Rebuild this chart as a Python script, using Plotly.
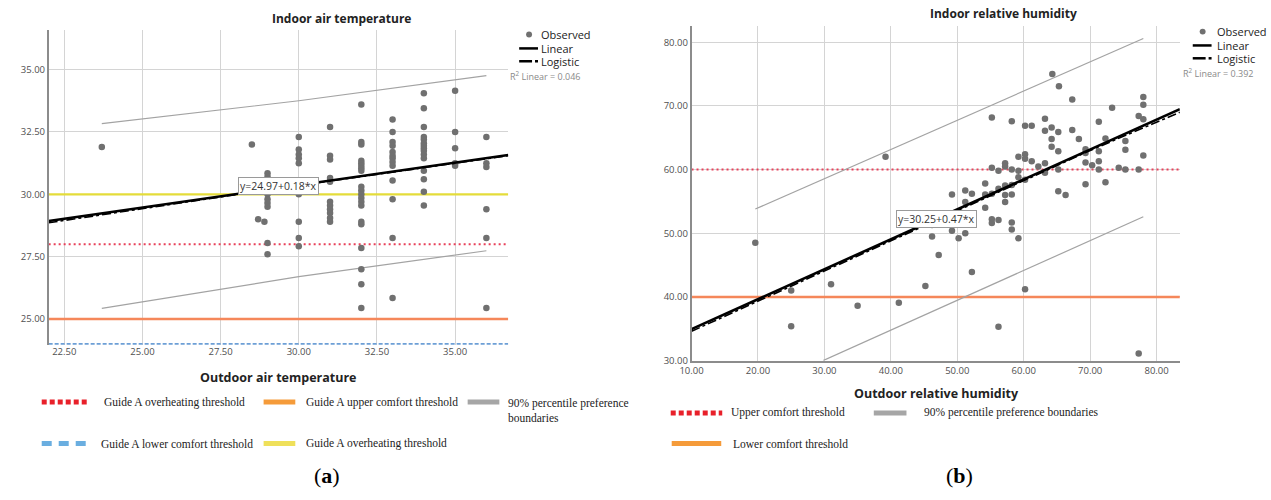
import plotly.graph_objects as go

W, H = 1271, 500

# ---------------- data: indoor vs outdoor air temperature ----------------
temp_outdoor = (
    [23.7, 28.5, 28.7, 28.9]
    + [29.0] * 11
    + [30.0] * 9
    + [31.0] * 11
    + [32.0] * 20
    + [33.0] * 13
    + [34.0] * 15
    + [35.0] * 5
    + [36.0] * 6
)
temp_indoor = (
    [31.9, 32.0, 29.0, 28.9]
    + [30.85, 30.7, 30.55, 30.4, 30.2, 30.0, 29.8, 29.65, 29.5, 28.05, 27.6]
    + [32.3, 31.8, 31.6, 31.45, 31.25, 30.0, 28.9, 28.25, 27.92]
    + [32.7, 31.55, 31.4, 30.65, 30.5, 29.7, 29.55, 29.4, 29.25, 29.05, 28.9]
    + [33.6, 32.1, 32.0, 31.35, 31.25, 31.15, 31.05, 30.95, 30.3, 30.15, 30.0,
       29.85, 29.7, 29.55, 28.9, 28.8, 27.85, 27.0, 26.4, 25.45]
    + [33.0, 32.5, 32.1, 31.95, 31.7, 31.55, 31.45, 31.3, 31.15, 30.55, 29.8,
       28.25, 25.85]
    + [34.05, 33.45, 32.7, 32.3, 32.2, 32.05, 31.95, 31.85, 31.75, 31.6, 31.45,
       30.95, 30.6, 30.1, 29.55]
    + [34.15, 32.5, 31.85, 31.25, 31.15]
    + [32.3, 31.25, 31.1, 29.4, 28.25, 25.45]
)
temp_x_range = [22.0, 36.7]
temp_fit_intercept, temp_fit_slope = 24.97, 0.18
temp_logistic_x = [22.0, 29.0, 36.7]
temp_logistic_y = [28.86, 30.18, 31.55]
temp_upper_bound_x = [23.7, 30.0, 36.0]
temp_upper_bound_y = [32.83, 33.75, 34.76]
temp_lower_bound_x = [23.7, 30.0, 36.0]
temp_lower_bound_y = [25.43, 26.7, 27.74]
temp_overheating_red = 28.0
temp_overheating_yellow = 30.0
temp_upper_comfort = 25.0
temp_lower_comfort = 24.0
temp_r2 = 0.046

# ---------------- data: indoor vs outdoor relative humidity ----------------
rh_outdoor = [
    19.6, 25.0, 25.0, 31.0, 35.0, 39.2, 41.2, 45.2, 46.2, 46.2, 47.2, 49.2, 49.2,
    50.2, 51.2, 51.2, 51.2, 52.2, 52.2, 54.2, 54.2, 54.2, 55.2, 55.2, 55.2, 55.2,
    55.2, 56.2, 56.2, 56.2, 56.2, 57.2, 57.2, 57.2, 57.2, 57.2, 58.2, 58.2, 58.2,
    58.2, 58.2, 58.2, 59.2, 59.2, 59.2, 59.2, 60.2, 60.2, 60.2, 60.2, 60.2, 61.2,
    61.2, 62.2, 63.2, 63.2, 63.2, 63.2, 64.2, 64.2, 64.2, 64.3, 65.2, 65.2, 65.2,
    65.2, 65.3, 66.3, 67.3, 67.3, 68.3, 69.3, 69.3, 69.3, 69.3, 70.3, 71.3, 71.3,
    71.3, 71.3, 72.3, 72.3, 73.3, 74.3, 75.3, 75.3, 75.3, 77.3, 77.3, 77.3, 78.0,
    78.0, 78.0, 78.0,
]
rh_indoor = [
    48.5, 41.0, 35.4, 42.0, 38.6, 62.0, 39.1, 41.7, 49.5, 51.3, 46.6, 56.1, 50.4,
    49.2, 56.7, 54.9, 50.0, 56.2, 43.9, 57.8, 56.1, 54.0, 68.2, 60.3, 56.2, 52.2,
    51.6, 59.8, 57.0, 52.1, 35.3, 61.0, 60.5, 57.5, 56.0, 54.9, 67.6, 60.0, 57.6,
    56.1, 51.7, 50.6, 62.0, 58.8, 59.8, 49.2, 66.9, 62.4, 61.7, 58.4, 41.2, 66.9,
    61.3, 60.5, 68.0, 66.1, 61.0, 59.5, 66.6, 64.8, 63.6, 75.0, 65.9, 62.9, 60.0,
    56.6, 73.1, 56.0, 71.0, 66.2, 64.8, 63.2, 62.6, 61.1, 57.7, 60.7, 67.5, 62.9,
    61.3, 60.0, 64.9, 58.0, 69.7, 60.3, 64.5, 63.1, 60.0, 68.4, 60.0, 31.1, 71.4,
    70.2, 67.9, 62.2,
]
rh_x_range = [10.0, 83.5]
rh_fit_intercept, rh_fit_slope = 30.25, 0.47
rh_logistic_x = [10.0, 30.0, 50.0, 70.0, 83.5]
rh_logistic_y = [34.6, 44.1, 53.6, 63.0, 69.0]
rh_upper_bound_x = [19.6, 78.0]
rh_upper_bound_y = [53.8, 80.6]
rh_lower_bound_x = [29.8, 78.0]
rh_lower_bound_y = [30.0, 52.6]
rh_upper_comfort = 60.0
rh_lower_comfort = 40.0
rh_r2 = 0.392

# ---------------- styling ----------------
SANS = "Open Sans"
SERIF = "Liberation Serif"
DOT_GREY = "#707070"
GRID = "#d4d4d4"
BOUND_GREY = "#a3a3a3"
RED_LINE = "#e8405a"
ORANGE_LINE = "#f5875a"
YELLOW_LINE = "#e4dc3a"
BLUE_LINE = "#6d9fd6"


def fx(p):
    return p / W


def fy(p):
    return 1 - p / H


fig = go.Figure()


def add_panel(xa, ya, xs, ys, xr, b0, b1, lx, ly, ubx, uby, lbx, lby, hlines):
    # horizontal threshold lines spanning the whole x range
    for val, color, width, dash in hlines:
        fig.add_trace(go.Scatter(
            x=xr, y=[val, val], mode="lines", xaxis=xa, yaxis=ya,
            line=dict(color=color, width=width, dash=dash),
            showlegend=False, hoverinfo="skip"))
    # 90% percentile preference boundaries
    fig.add_trace(go.Scatter(
        x=ubx + [None] + lbx, y=uby + [None] + lby, mode="lines",
        xaxis=xa, yaxis=ya, line=dict(color=BOUND_GREY, width=1.2),
        showlegend=False, hoverinfo="skip"))
    # observed values
    fig.add_trace(go.Scatter(
        x=xs, y=ys, mode="markers", xaxis=xa, yaxis=ya,
        marker=dict(color=DOT_GREY, size=6.5), showlegend=False))
    # linear fit
    fig.add_trace(go.Scatter(
        x=xr, y=[b0 + b1 * v for v in xr], mode="lines", xaxis=xa, yaxis=ya,
        line=dict(color="black", width=2.6), showlegend=False))
    # logistic fit
    fig.add_trace(go.Scatter(
        x=lx, y=ly, mode="lines", xaxis=xa, yaxis=ya,
        line=dict(color="black", width=1.6, dash="dashdot"),
        showlegend=False))


add_panel("x", "y", temp_outdoor, temp_indoor, temp_x_range,
          temp_fit_intercept, temp_fit_slope, temp_logistic_x, temp_logistic_y,
          temp_upper_bound_x, temp_upper_bound_y,
          temp_lower_bound_x, temp_lower_bound_y,
          [(temp_upper_comfort, ORANGE_LINE, 2.5, "solid"),
           (temp_overheating_yellow, YELLOW_LINE, 2.2, "solid"),
           (temp_overheating_red, RED_LINE, 2, "2px,3px"),
           (temp_lower_comfort, BLUE_LINE, 2, "4px,2px")])

add_panel("x2", "y2", rh_outdoor, rh_indoor, rh_x_range,
          rh_fit_intercept, rh_fit_slope, rh_logistic_x, rh_logistic_y,
          rh_upper_bound_x, rh_upper_bound_y,
          rh_lower_bound_x, rh_lower_bound_y,
          [(rh_lower_comfort, ORANGE_LINE, 2.5, "solid"),
           (rh_upper_comfort, RED_LINE, 2, "2px,3px")])

axis_common = dict(
    showgrid=True, gridcolor=GRID, gridwidth=1, zeroline=False,
    showline=True, linecolor="#8c8c8c", linewidth=1.5, ticks="",
    tickformat=".2f", tickfont=dict(family=SANS, size=9.5, color="#505050"),
)

fig.update_layout(
    width=W, height=H, margin=dict(l=0, r=0, t=0, b=0),
    paper_bgcolor="white", plot_bgcolor="white", showlegend=False,
    xaxis=dict(axis_common, range=temp_x_range, tick0=22.5, dtick=2.5,
               showline=False, domain=[fx(37), fx(501)], anchor="y"),
    yaxis=dict(axis_common, range=[23.97, 36.6], tick0=25, dtick=2.5,
               domain=[fy(349), fy(30)], anchor="x"),
    xaxis2=dict(axis_common, range=rh_x_range, tick0=10, dtick=10,
                domain=[fx(686), fx(1179)], anchor="y2"),
    yaxis2=dict(axis_common, range=[30, 82.6], tick0=30, dtick=10,
                domain=[fy(365), fy(26)], anchor="x2"),
)

annotations = []
shapes = []


def text(x, y, s, size=11, family=SANS, color="#222222", xanchor="left",
         bold=False):
    annotations.append(dict(
        x=fx(x), y=fy(y), xref="paper", yref="paper",
        text=f"<b>{s}</b>" if bold else s,
        showarrow=False, xanchor=xanchor, yanchor="middle",
        align="left" if xanchor == "left" else "center", borderpad=0,
        font=dict(family=family, size=size, color=color)))


def key_line(x0, x1, y, color, width, dash="solid"):
    shapes.append(dict(
        type="line", xref="paper", yref="paper",
        x0=fx(x0), x1=fx(x1), y0=fy(y), y1=fy(y),
        line=dict(color=color, width=width, dash=dash)))


def key_dot(x, y, r, color):
    shapes.append(dict(
        type="circle", xref="paper", yref="paper",
        x0=fx(x - r), x1=fx(x + r), y0=fy(y + r), y1=fy(y - r),
        fillcolor=color, line=dict(width=0)))


# titles
text(333, 19, "Indoor air temperature", size=12, xanchor="center", bold=True)
text(1001, 14, "Indoor relative humidity", size=12, xanchor="center", bold=True)
text(269, 382, "Outdoor air temperature", size=12.5, xanchor="center", bold=True)
text(933, 398, "Outdoor relative humidity", size=12.5, xanchor="center", bold=True)

# fit-type legends inside each panel
for (mx, lx0, tx, y0, r2x, r2) in [(522, 512, 533, 35, 502, temp_r2),
                                    (1202, 1192, 1215, 32, 1181, rh_r2)]:
    key_dot(mx, y0, 3, DOT_GREY)
    text(tx, y0, "Observed", size=11)
    key_line(lx0, lx0 + 19, y0 + 14, "black", 2.5)
    text(tx, y0 + 14, "Linear", size=11)
    key_line(lx0, lx0 + 13, y0 + 27, "black", 2.5)
    key_line(lx0 + 16, lx0 + 19, y0 + 27, "black", 2.5)
    text(tx, y0 + 27, "Logistic", size=11)
    text(r2x, y0 + 42, f"R<sup>2</sup> Linear = {r2:.3f}", size=9, color="#8a8a8a")

# regression equation labels
for xa, ya, ex, ey, b0, b1 in [("x", "y", 29.36, 30.32, temp_fit_intercept, temp_fit_slope),
                               ("x2", "y2", 46.9, 52.2, rh_fit_intercept, rh_fit_slope)]:
    annotations.append(dict(
        x=ex, y=ey, xref=xa, yref=ya, showarrow=False,
        text=f"y={b0:.2f}+{b1:.2f}*x", bgcolor="white",
        bordercolor="#9a9a9a", borderwidth=1, borderpad=1,
        font=dict(family=SANS, size=10.5, color="#333333")))

# threshold legend under the temperature panel
LEG_RED, LEG_ORANGE, LEG_YELLOW = "#e8202a", "#f59b3a", "#efe05a"
LEG_BLUE, LEG_GREY = "#6aaee0", "#a6a6a6"
key_line(30, 78, 407, LEG_RED, 5, "5px,3px")
text(92, 407, "Guide A overheating threshold", size=11.5, family=SERIF)
key_line(254, 286, 407, LEG_ORANGE, 5)
text(296, 407, "Guide A upper comfort threshold", size=11.5, family=SERIF)
key_line(460, 492, 407, LEG_GREY, 5)
text(500, 415, "90% percentile preference<br>boundaries", size=11.5, family=SERIF)
key_line(30, 76, 449, LEG_BLUE, 5, "10px,7px")
text(89, 449, "Guide A lower comfort threshold", size=11.5, family=SERIF)
key_line(254, 286, 449, LEG_YELLOW, 5)
text(296, 449, "Guide A overheating threshold", size=11.5, family=SERIF)

# threshold legend under the humidity panel
key_line(665, 717, 418, LEG_RED, 5, "5px,3px")
text(725, 418, "Upper comfort threshold", size=11.5, family=SERIF)
key_line(870, 903, 418, LEG_GREY, 5)
text(920, 418, "90% percentile preference boundaries", size=11.5, family=SERIF)
key_line(666, 716, 449, LEG_ORANGE, 5)
text(727, 449, "Lower comfort threshold", size=11.5, family=SERIF)

# sub-figure labels
text(318, 481, "(<b>a</b>)", size=22, family=SERIF, color="black", xanchor="center")
text(957, 481, "(<b>b</b>)", size=22, family=SERIF, color="black", xanchor="center")

fig.update_layout(annotations=annotations, shapes=shapes)
fig.write_html("out.html")
